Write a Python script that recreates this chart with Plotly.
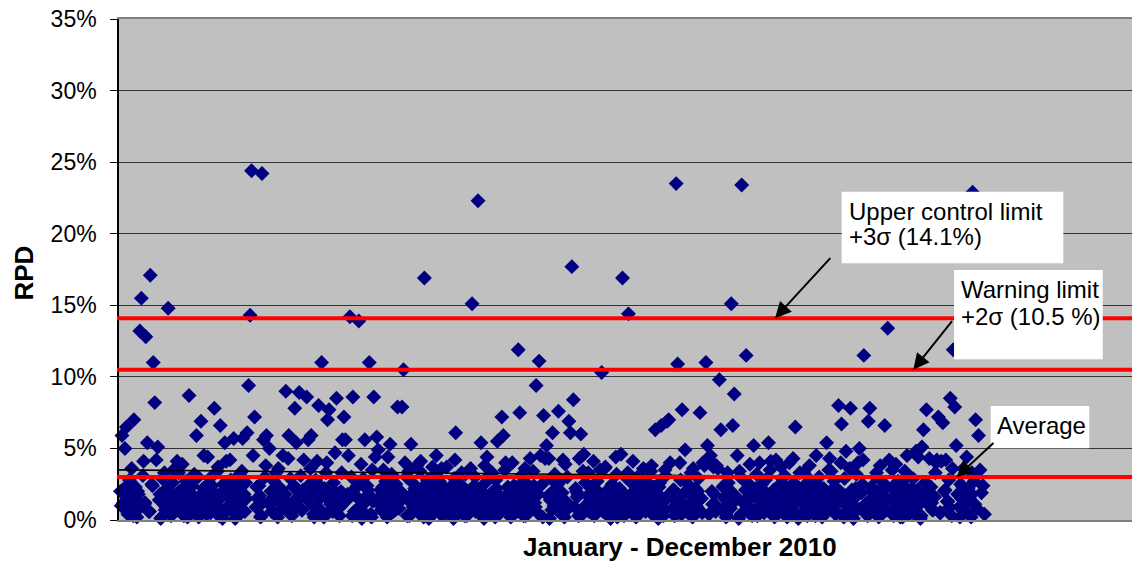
import plotly.graph_objects as go

# ---------------- data ----------------
# RPD values (%) for samples taken January - December 2010
# clearly distinguishable points: (sample number, RPD %)
upper_samples = [2, 4, 5, 10, 14, 15, 18, 19, 21, 23, 24, 25, 26, 33, 39, 47, 52, 55, 57, 64,
                 68, 71, 72, 77, 83, 86, 87, 88, 89, 90, 91, 96, 97, 99, 101, 110, 112, 114, 118, 119,
                 121, 124, 126, 127, 129, 133, 134, 136, 140, 141, 145, 146, 150, 151, 152, 154, 155, 157, 161, 165,
                 168, 171, 172, 173, 174, 182, 187, 190, 191, 192, 196, 200, 205, 213, 226, 236, 237, 241, 243, 247,
                 254, 257, 258, 264, 268, 269, 276, 280, 282, 283, 285, 286, 287, 291, 295, 298, 302, 303, 304, 305,
                 309, 310, 312, 323, 324, 337, 338, 342, 345, 352, 360, 364, 368, 369, 370, 374, 375, 378, 380, 390,
                 392, 393, 394, 395, 397, 401, 402, 403, 404, 411, 412, 413, 415, 418, 421, 426, 430, 436, 441, 450,
                 454, 468, 475, 477, 483, 485, 488, 491, 496, 497, 500, 503, 504, 511, 514, 516, 517, 529, 535, 539,
                 540, 542, 544, 549, 550, 552, 553, 555, 558, 560, 561, 562, 569, 573, 575, 577, 578]
upper_rpd = [5.9, 5.0, 6.5, 7.0, 13.2, 15.5, 12.8, 5.4, 17.1, 11.0, 8.2, 4.2, 5.1, 14.8, 4.1, 8.7, 5.9, 6.9, 4.5, 7.8,
             6.6, 5.4, 4.1, 5.7, 5.7, 6.1, 9.4, 14.3, 24.4, 4.5, 7.2, 24.2, 5.6, 5.9, 5.0, 4.5, 9.0, 5.9, 7.8, 5.4,
             8.9, 4.2, 8.6, 5.6, 5.9, 4.1, 8.0, 11.0, 7.0, 7.7, 4.7, 8.5, 5.6, 7.2, 5.6, 4.5, 14.2, 8.6, 13.9, 5.6,
             11.0, 8.6, 4.4, 5.8, 4.9, 5.3, 7.9, 7.9, 10.5, 4.0, 5.3, 3.8, 16.9, 4.5, 6.1, 3.6, 15.1, 22.3, 5.4, 4.4,
             5.5, 7.2, 5.9, 4.0, 11.9, 7.5, 4.3, 9.4, 11.1, 4.5, 7.3, 4.3, 5.2, 6.1, 7.6, 4.2, 6.9, 6.1, 17.7, 8.4,
             4.3, 6.0, 4.6, 3.5, 10.3, 4.6, 16.9, 14.4, 4.1, 3.6, 6.3, 6.6, 6.9, 7.0, 4.0, 23.5, 10.9, 7.7, 4.9, 7.5,
             4.0, 3.8, 11.0, 5.2, 4.5, 3.8, 3.6, 9.8, 6.3, 15.1, 6.6, 8.8, 4.5, 23.4, 11.5, 5.2, 4.0, 5.4, 4.2, 4.0,
             6.5, 4.5, 5.4, 4.3, 8.0, 6.7, 4.8, 7.8, 4.0, 5.0, 11.5, 6.9, 7.8, 3.8, 6.6, 13.4, 4.2, 4.5, 4.8, 5.1,
             6.3, 7.7, 4.3, 4.2, 7.2, 4.1, 6.8, 4.2, 8.5, 11.9, 7.9, 5.2, 4.4, 22.9, 7.0, 5.9, 3.5]

# the dense band of low RPD values, in sample order (fills the remaining samples)
low_rpd = [
    2.0, 1.2, 0.4, 2.8, 1.6, 0.9, 2.3, 0.2, 1.8, 3.1, 1.1, 0.6, 2.5, 1.4, 0.1, 2.9, 1.9, 0.7, 2.2, 1.3,
    0.3, 2.6, 1.7, 0.8, 3.3, 1.0, 2.1, 0.5, 1.5, 2.7, 0.2, 1.9, 2.4, 0.9, 1.2, 3.0, 0.6, 1.7, 2.3, 0.4,
    1.4, 2.9, 0.8, 2.0, 1.1, 3.4, 0.3, 1.6, 2.5, 0.7, 1.9, 2.8, 1.3, 0.1, 2.2, 1.0, 3.2, 0.5, 1.8, 2.6,
    0.9, 1.5, 2.4, 0.2, 3.0, 1.2, 2.0, 0.6, 2.7, 1.4, 0.4, 3.6, 1.7, 2.1, 0.8, 1.3, 2.9, 0.3, 2.3, 1.6,
    3.1, 0.7, 1.9, 2.5, 1.0, 0.2, 2.8, 1.5, 0.5, 2.2, 3.3, 1.1, 0.8, 2.6, 1.8, 0.3, 2.0, 1.4, 3.0, 0.6,
    1.7, 2.4, 0.9, 0.1, 2.9, 1.3, 2.1, 0.4, 3.5, 1.6, 0.7, 2.3, 1.0, 2.7, 0.2, 1.9, 3.2, 0.6, 1.2, 2.5,
    0.8, 2.0, 3.0, 1.4, 0.3, 2.6, 1.1, 1.8, 0.5, 3.4, 2.2, 0.9, 1.5, 2.8, 0.1, 2.4, 1.2, 0.7, 3.1, 1.9,
    2.7, 0.4, 1.6, 2.3, 1.0, 3.7, 0.6, 2.0, 1.3, 0.2, 2.9, 1.7, 0.8, 2.5, 3.3, 1.1, 0.3, 2.1, 1.5, 0.9,
    1.2, 3.0, 2.2, 0.5, 1.8, 0.1, 2.6, 1.4, 3.2, 0.7, 2.0, 1.0, 2.8, 0.4, 1.6, 3.5, 0.9, 2.3, 1.3, 0.2,
    2.4, 1.1, 0.6, 3.1, 1.9, 2.7, 0.3, 1.5, 2.1, 0.8, 3.4, 1.2, 0.5, 2.5, 1.7, 0.1, 2.9, 1.0, 2.2, 0.7,
    1.6, 2.8, 0.2, 1.3, 3.0, 0.9, 2.0, 1.8, 0.4, 2.6, 1.1, 3.3, 0.7, 1.5, 2.3, 0.3, 1.9, 2.7, 1.2, 0.6,
    3.6, 0.8, 2.1, 1.4, 0.1, 2.5, 1.7, 0.5, 3.2, 1.0, 2.2, 0.3, 1.6, 2.9, 0.9, 1.3, 2.4, 0.2, 3.0, 1.8,
    0.5, 2.0, 1.1, 2.7, 0.8, 1.5, 3.4, 0.4, 2.3, 1.9, 0.1, 2.6, 1.2, 0.7, 3.1, 1.6, 2.1, 0.3, 1.4, 2.8,
    1.0, 0.6, 2.5, 1.8, 3.3, 0.2, 1.3, 2.2, 0.9, 2.9, 1.5, 0.4, 2.0, 3.7, 1.1, 0.7, 2.4, 1.7, 0.3, 2.6,
    2.1, 1.4, 0.1, 3.0, 1.2, 2.7, 0.6, 1.9, 2.4, 0.3, 1.6, 3.2, 0.8, 2.2, 1.0, 0.5, 2.8, 1.3, 3.5, 0.9,
    1.7, 0.2, 2.3, 1.1, 0.7, 2.9, 1.5, 3.1, 0.4, 2.0, 1.2, 0.8, 2.6, 1.8, 0.1, 3.3, 1.4, 2.1, 0.6, 2.5,
    0.3, 1.9, 2.8, 0.9, 1.6, 2.4, 0.5, 3.0, 1.3, 0.2, 2.2, 1.7, 0.7, 3.4, 1.0, 2.7, 0.4, 1.5, 2.0, 1.2,
    2.9, 0.6, 1.4, 2.1, 0.1, 1.8, 3.2, 0.8, 2.5, 1.1, 0.4, 2.3, 1.6, 0.9, 3.0, 2.0, 0.2, 1.3, 2.6, 0.7,
    1.5, 3.5, 0.3, 2.2, 1.0, 2.7, 0.6, 1.9, 0.2, 2.4, 1.2, 3.1, 0.8, 1.7, 2.9, 0.4, 2.1, 1.4, 0.1, 2.6,
    1.1, 2.3, 0.7, 1.6, 3.3, 0.5, 2.0, 1.3, 2.8, 0.3, 1.8, 0.9, 2.5, 1.0, 3.6, 0.6, 2.2, 1.5, 0.2, 2.7,
    0.8, 1.9, 2.4, 0.4, 1.2, 3.0, 1.7, 0.1, 2.1, 1.4, 2.6, 0.5, 1.0, 3.2, 1.8, 0.7, 2.3, 1.1, 0.3, 2.0,
]
# second duplicate-run values, between consecutive low samples
low_rpd_b = [
    1.0, 2.2, 0.5, 1.7, 3.6, 0.3, 1.4, 2.0, 0.8, 4.1, 1.2, 0.6, 2.4, 1.8, 0.2, 1.5, 3.3, 0.9, 2.1, 1.3,
    0.4, 3.5, 1.6, 0.7, 2.0, 1.1, 3.9, 0.3, 1.9, 1.2, 2.3, 0.6, 1.5, 3.2, 0.9, 0.2, 1.7, 2.2, 1.0, 4.4,
    1.8, 0.5, 2.4, 1.3, 0.8, 3.7, 1.6, 0.1, 2.1, 1.0, 4.2, 0.7, 1.4, 2.5, 0.4, 1.9, 1.1, 3.4, 0.6, 1.5,
    2.3, 0.9, 1.7, 0.3, 3.8, 1.2, 0.6, 2.0, 1.6, 3.3, 0.2, 1.3, 2.2, 0.8, 1.8, 4.3, 0.5, 1.1, 2.4, 1.4,
    0.7, 2.1, 1.5, 3.6, 0.4, 1.9, 1.0, 2.3, 0.2, 1.7, 4.0, 1.2, 0.6, 2.0, 1.4, 0.9, 3.3, 1.8, 0.3, 2.2,
    1.6, 0.8, 3.9, 1.1, 0.5, 2.4, 1.8, 0.2, 1.3, 2.1, 0.9, 3.5, 1.5, 0.4, 4.4, 1.0, 1.7, 2.3, 0.7, 1.2,
    2.0, 1.4, 0.3, 3.4, 1.7, 0.9, 2.2, 1.1, 0.6, 4.1, 1.5, 0.2, 1.9, 2.4, 0.8, 1.3, 3.7, 0.5, 1.6, 2.1,
    0.9, 3.6, 1.2, 0.4, 2.0, 1.8, 0.7, 2.3, 1.5, 0.1, 4.2, 1.0, 1.7, 2.2, 0.6, 1.4, 3.2, 0.3, 1.9, 1.1,
    2.4, 0.6, 1.6, 2.1, 0.9, 3.8, 1.3, 0.4, 1.8, 3.3, 1.0, 0.2, 2.2, 1.5, 0.7, 4.0, 1.2, 1.9, 0.5, 2.0,
    1.3, 2.3, 0.8, 1.7, 0.3, 3.6, 1.1, 2.0, 0.6, 1.5, 2.4, 0.9, 1.8, 0.2, 4.3, 1.4, 0.7, 3.2, 1.0, 2.5,
    0.5, 1.9, 3.9, 1.2, 0.8, 2.2, 1.6, 0.3, 3.4, 1.0, 1.7, 0.6, 2.3, 1.4, 4.1, 0.4, 1.1, 2.0, 1.5, 0.9,
    3.7, 1.0, 0.4, 1.8, 2.3, 0.7, 1.3, 4.4, 0.2, 1.6, 2.1, 0.9, 1.4, 3.3, 0.6, 1.9, 1.2, 0.3, 2.2, 1.7,
    1.1, 2.4, 0.6, 1.5, 2.0, 0.9, 3.8, 1.3, 0.5, 1.8, 2.3, 1.0, 0.3, 3.5, 1.6, 0.8, 2.1, 1.4, 4.0, 0.4,
    1.9, 0.7, 2.2, 1.2, 0.3, 3.6, 1.7, 0.9, 2.0, 1.4, 0.5, 4.2, 1.1, 1.8, 0.6, 2.3, 1.5, 0.2, 3.3, 1.0,
    0.8, 1.6, 3.4, 0.4, 1.3, 2.1, 1.0, 3.9, 0.6, 1.7, 2.2, 0.3, 1.5, 2.5, 0.9, 2.0, 1.2, 0.7, 4.1, 1.4,
    2.1, 0.5, 1.8, 1.1, 3.7, 0.8, 1.4, 2.3, 0.2, 1.9, 1.0, 4.3, 0.6, 1.6, 2.2, 1.3, 0.4, 3.3, 1.7, 0.9,
    1.5, 3.8, 0.7, 2.0, 1.2, 0.3, 2.4, 1.8, 0.9, 2.1, 1.4, 0.5, 3.5, 1.0, 1.9, 2.3, 0.6, 1.3, 4.0, 0.2,
    1.7, 1.0, 3.6, 0.4, 1.5, 2.2, 0.8, 1.9, 4.2, 1.1, 0.3, 2.0, 1.6, 0.7, 3.3, 1.2, 1.8, 0.5, 2.1, 1.4,
    0.6, 2.3, 1.3, 3.9, 0.9, 1.7, 0.2, 2.0, 1.4, 3.4, 1.0, 0.4, 1.8, 2.2, 0.8, 1.5, 4.4, 1.1, 0.3, 1.9,
    2.4, 1.2, 0.7, 1.6, 4.0, 0.5, 2.1, 1.3, 0.9, 3.6, 1.8, 0.2, 1.5, 2.3, 1.0, 0.6, 2.0, 1.7, 3.3, 1.1,
]
n_samples = 581

# control-chart levels (%)
average_rpd = 3.0
warning_limit = 10.5   # +2 sigma
control_limit = 14.1   # +3 sigma
trend_start, trend_end = 3.5, 2.9

y_ticks = [0, 5, 10, 15, 20, 25, 30, 35]
y_tick_text = ["0%", "5%", "10%", "15%", "20%", "25%", "30%", "35%"]

# ---------------- assemble series ----------------
taken = set(upper_samples)
free_slots = [s for s in range(1, n_samples + 1) if s not in taken]
pairs = list(zip(upper_samples, upper_rpd))
pairs += list(zip(free_slots, low_rpd))
pairs += list(zip([s + 0.5 for s in free_slots], low_rpd_b))
pairs.sort()
xs = [p[0] for p in pairs]
ys = [p[1] for p in pairs]

FONT = "Arial, 'Liberation Sans', sans-serif"

fig = go.Figure()
fig.add_trace(go.Scatter(
    x=xs, y=ys, mode="markers",
    marker=dict(symbol="diamond", size=11.5, color="#000080", line=dict(width=0)),
    cliponaxis=False, showlegend=False, hoverinfo="skip"))
fig.add_trace(go.Scatter(
    x=[0, n_samples], y=[trend_start, trend_end], mode="lines",
    line=dict(color="black", width=1.6), showlegend=False, hoverinfo="skip"))

shapes = []
for lvl in (average_rpd, warning_limit, control_limit):
    shapes.append(dict(type="line", xref="paper", yref="y", x0=-0.002, x1=1, y0=lvl, y1=lvl,
                       line=dict(color="#FF0000", width=4), layer="above"))
# white label boxes
for (x0, x1, y0, y1) in [(0.7134, 0.9322, 0.5124, 0.6553),
                         (0.8243, 0.9711, 0.3208, 0.4990),
                         (0.8605, 0.9578, 0.1431, 0.2275)]:
    shapes.append(dict(type="rect", xref="paper", yref="paper", x0=x0, x1=x1, y0=y0, y1=y1,
                       fillcolor="white", line=dict(width=0), layer="above"))

ann = []
def txt(x, y, s):
    ann.append(dict(xref="paper", yref="paper", x=x, y=y, text=s, showarrow=False,
                    xanchor="left", yanchor="middle", font=dict(family=FONT, size=24, color="black")))
txt(0.7190, 0.6162, "Upper control limit")
txt(0.7190, 0.5649, "+3σ (14.1%)")
txt(0.8293, 0.4605, "Warning limit")
txt(0.8293, 0.4052, "+2σ (10.5 %)")
txt(0.8648, 0.1890, "Average")

def arrow(hx, hy, tx, ty):
    ann.append(dict(xref="x", yref="y", x=hx, y=hy, axref="x", ayref="y", ax=tx, ay=ty,
                    text="", showarrow=True, arrowhead=2, arrowsize=1.6, arrowwidth=2,
                    arrowcolor="black", standoff=0))
arrow(440.4, control_limit, 478.4, 18.4)
arrow(533.2, warning_limit, 560.0, 14.0)
arrow(562.3, average_rpd, 588.0, 5.47)

ann.append(dict(xref="paper", yref="paper", x=0.554, y=0, yshift=-27, text="<b>January - December 2010</b>",
                showarrow=False, xanchor="center", yanchor="middle",
                font=dict(family=FONT, size=26, color="black")))
ann.append(dict(xref="paper", yref="paper", x=0, y=0.5, xshift=-96, yshift=-4, text="<b>RPD</b>",
                textangle=-90, showarrow=False, xanchor="center", yanchor="middle",
                font=dict(family=FONT, size=26, color="black")))

fig.update_layout(
    width=1132, height=561, autosize=False,
    margin=dict(l=119, r=0, t=19, b=41, pad=0),
    paper_bgcolor="white", plot_bgcolor="#C0C0C0",
    font=dict(family=FONT, size=23, color="black"),
    shapes=shapes, annotations=ann, showlegend=False,
    xaxis=dict(range=[0, 680], showgrid=False, zeroline=False, showticklabels=False, ticks="",
               showline=True, mirror=True, linecolor="#808080", linewidth=2, fixedrange=True),
    yaxis=dict(range=[0, 35], tickvals=y_ticks, ticktext=y_tick_text, showgrid=True,
               gridcolor="#333333", gridwidth=1, zeroline=False, ticks="outside", ticklen=7,
               tickcolor="black", tickwidth=1, showline=True, linecolor="black", linewidth=1.5,
               ticklabelstandoff=9, tickfont=dict(family=FONT, size=23, color="black"),
               fixedrange=True),
)

fig.write_html("out.html", config={"displayModeBar": False},
               post_script="document.body.style.margin='0';document.body.style.overflow='hidden';")
